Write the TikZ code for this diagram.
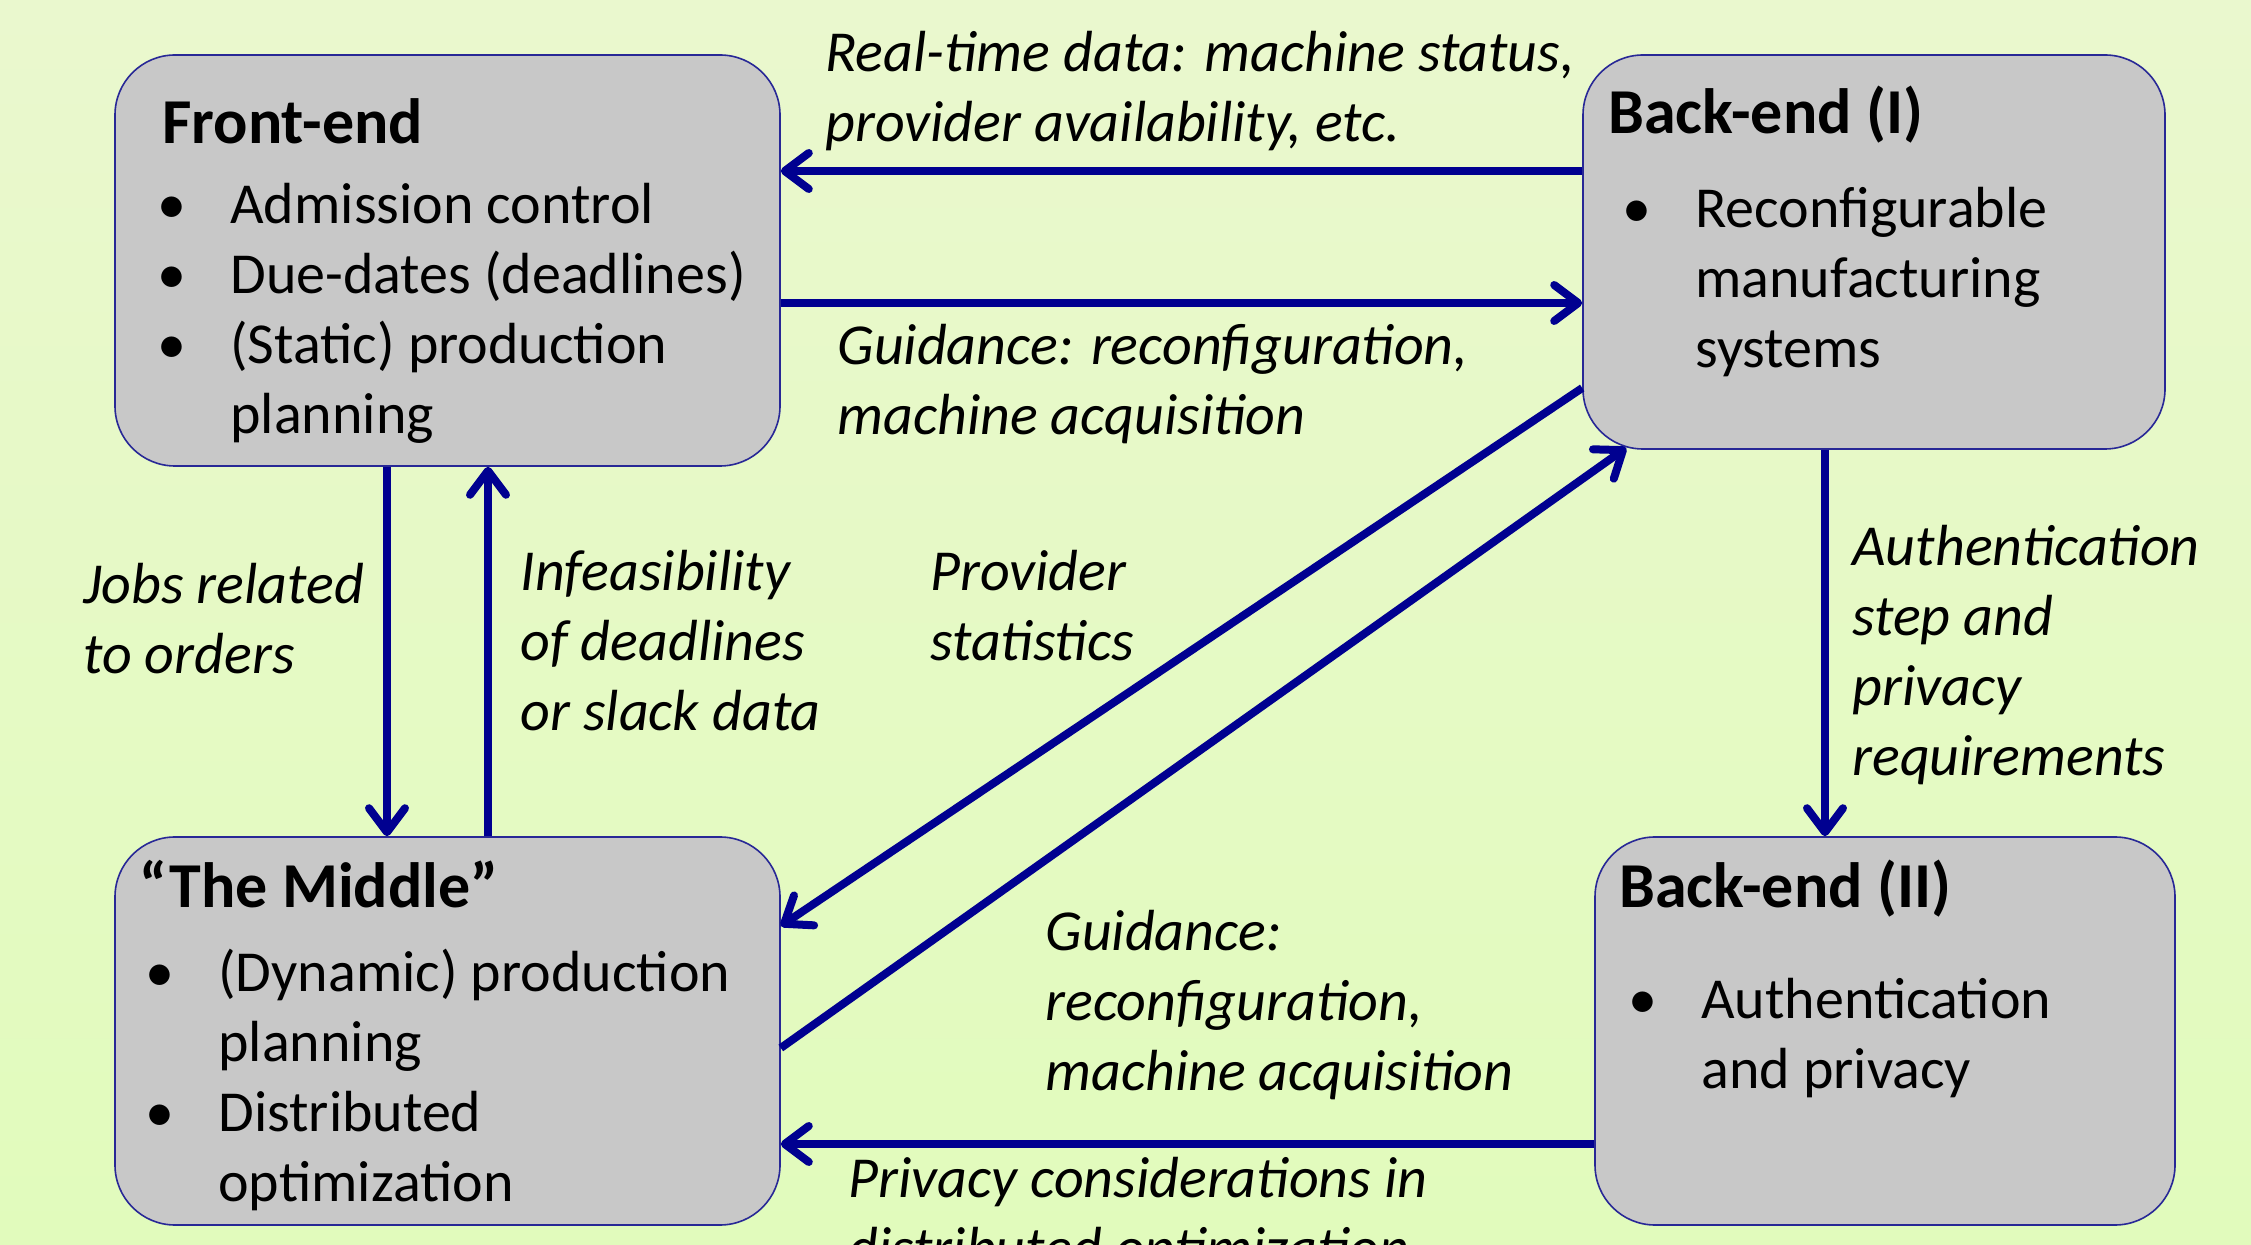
\documentclass[tikz,border=0pt]{standalone}
\usepackage{fontspec}
\setmainfont{Carlito}
\usetikzlibrary{arrows.meta,calc}
\definecolor{navy}{RGB}{0,0,144}
\definecolor{boxfill}{RGB}{200,200,200}
\definecolor{boxline}{RGB}{40,40,150}
\definecolor{bgtop}{RGB}{234,248,206}
\definecolor{bgbot}{RGB}{225,251,188}
\newcommand{\bul}{\makebox[31.5pt][l]{\hspace*{-5pt}•}}
\newcommand{\ind}{\hspace*{31.5pt}}
\begin{document}
\begin{tikzpicture}[x=0.5pt,y=-0.5pt,
 box/.style={draw=boxline, line width=0.8pt, fill=boxfill, rounded corners=30pt, inner sep=0pt},
 ttl/.style={anchor=base west, inner sep=0pt, font=\fontsize{32}{38}\selectfont\bfseries},
 body/.style={anchor=base west, inner sep=0pt, align=left, font=\fontsize{29}{35}\selectfont},
 lbl/.style={anchor=base west, inner sep=0pt, align=left, font=\fontsize{29}{35}\selectfont\itshape},
 arr/.style={draw=navy, line width=4pt, -{Straight Barb[round,length=12pt,width=18pt]}}]
\useasboundingbox (0,0) rectangle (2251,1245);
\clip (0,0) rectangle (2251,1245);
\shade[top color=bgtop, bottom color=bgbot] (0,0) rectangle (2251,1245);

% boxes
\node[box, minimum width=332.5pt, minimum height=205.5pt] (fe) at (447.5,260.5) {};
\node[box, minimum width=291pt, minimum height=197pt] (be1) at (1874,252) {};
\node[box, minimum width=332.5pt, minimum height=194pt] (mid) at (447.5,1031) {};
\node[box, minimum width=290pt, minimum height=194pt] (be2) at (1885,1031) {};

% box texts (base = last line baseline)
\node[ttl] (fet) at (162,144) {Front-end};
\node[body] (feb) at (167,434) {\bul Admission control\\ \bul Due-dates (deadlines)\\ \bul (Static) production\\ \ind planning};
\node[ttl] (be1t) at (1608,134) {Back-end (I)};
\node[body] (be1b) at (1632,368) {\bul Reconfigurable\\ \ind manufacturing\\ \ind systems};
\node[ttl] (midt) at (139,907) {“The Middle”};
\node[body] (midb) at (155,1201) {\bul (Dynamic) production\\ \ind planning\\ \bul Distributed\\ \ind optimization};
\node[ttl] (be2t) at (1619,907) {Back-end (II)};
\node[body] (be2b) at (1638,1088) {\bul Authentication\\ \ind and privacy};

% helper coordinates
\coordinate (ya) at (0,171);
\coordinate (yb) at (0,303);
\coordinate (xa) at (387,0);
\coordinate (xb) at (488,0);
\coordinate (yc) at (0,388);
\coordinate (yd) at (0,926);
\coordinate (ye) at (0,1048);
\coordinate (xc) at (1825,0);
\coordinate (yf) at (0,1144);

% connectors
\draw[arr] (be1.west |- ya) -- (fe.east |- ya);
\draw[arr] (fe.east |- yb) -- (be1.west |- yb);
\draw[arr] (xa |- fe.south) -- (xa |- mid.north);
\draw[arr] (xb |- mid.north) -- (xb |- fe.south);
\draw[arr] (be1.west |- yc) -- (mid.east |- yd);
\draw[arr] (mid.east |- ye) -- ($(be1.south west)+(44,-2)$);
\draw[arr] (xc |- be1.south) -- (xc |- be2.north);
\draw[arr] (be2.west |- yf) -- (mid.east |- yf);

% labels (base = last line baseline)
\node[lbl] (l1) at (825,142) {Real-time data: machine status,\\provider availability, etc.};
\node[lbl] (l2) at (837,435) {Guidance: reconfiguration,\\machine acquisition};
\node[lbl] (l3) at (83,674) {Jobs related\\to orders};
\node[lbl] (l4) at (520,731) {Infeasibility\\of deadlines\\or slack data};
\node[lbl] (l5) at (930,661) {Provider\\statistics};
\node[lbl] (l6) at (1852,776) {Authentication\\step and\\privacy\\requirements};
\node[lbl] (l7) at (1045,1090) {Guidance:\\reconfiguration,\\machine acquisition};
\node[lbl] (l8) at (848,1267) {Privacy considerations in\\distributed optimization};
\end{tikzpicture}
\end{document}
